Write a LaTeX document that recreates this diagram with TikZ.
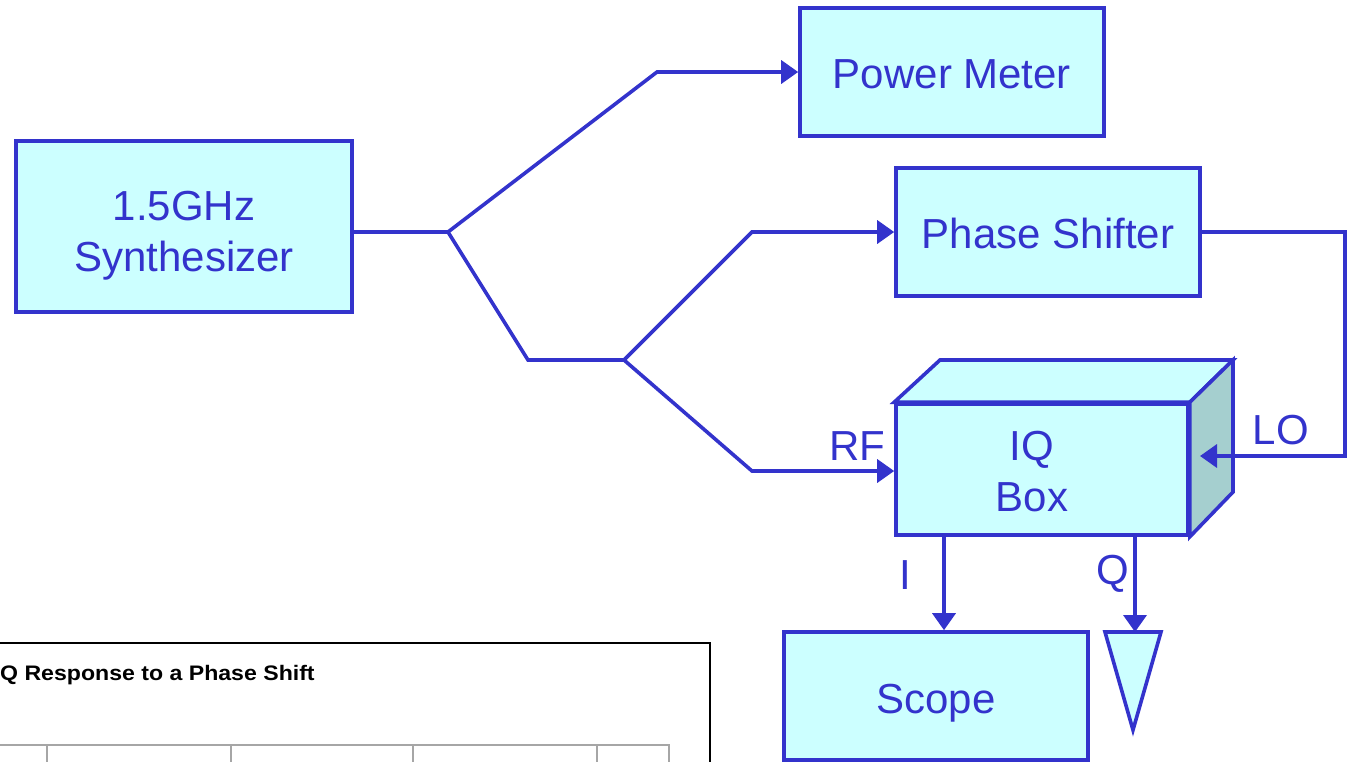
\documentclass[tikz,border=0pt]{standalone}
\usepackage{fontspec}
\setmainfont{Liberation Sans}
\usetikzlibrary{arrows.meta}
\definecolor{ln}{RGB}{51,51,204}
\definecolor{bx}{RGB}{204,255,255}
\definecolor{sidec}{RGB}{165,207,207}
\begin{document}
\begin{tikzpicture}[x=1pt,y=-1pt,
 box/.style={draw=ln, fill=bx, line width=3.6pt, inner sep=0pt},
 conn/.style={draw=ln, line width=3.6pt, line join=miter},
 arr/.style={conn, -{Triangle[length=17pt,width=23pt]}},
 lbl/.style={text=ln, font=\fontsize{42}{51}\selectfont, inner sep=0pt, align=center}]
\useasboundingbox (0,0) rectangle (1350,761);
% chart fragment
\draw[black, line width=1.5pt] (-5,643) -- (710,643) -- (710,775);
\draw[gray!70, line width=2pt] (-5,745) -- (669,745) -- (669,775);
\foreach \gx in {47,231,413,597} \draw[gray!70, line width=1.5pt] (\gx,745) -- (\gx,775);
\node[anchor=base west, font=\bfseries\fontsize{21}{25}\selectfont, inner sep=0pt] (title) at (0,680) {\scalebox{1.1}[1]{Q Response to a Phase Shift}};
% boxes
\node[box, minimum width=336pt, minimum height=171pt] (syn) at (184,226.5) {};
\node[lbl] (syntxt) at ([yshift=-9pt]syn.center) {1.5GHz\\Synthesizer};
\node[box, minimum width=304pt, minimum height=128pt] (pm) at (952,72) {};
\node[lbl] (pmtxt) at ([yshift=-2pt]pm.center) {Power Meter};
\node[box, minimum width=304pt, minimum height=128pt] (ps) at (1048,232) {};
\node[lbl] (pstxt) at ([yshift=-1pt]ps.center) {Phase Shifter};
\coordinate (btl) at (940,360);
\coordinate (btr) at (1233,360);
\coordinate (bbr) at (1233,492);
\node[box, minimum width=292pt, minimum height=131pt] (iq) at (1042,469.5) {};
\filldraw[conn, fill=bx] (iq.north west) -- (btl) -- (btr) -- (iq.north east) -- cycle;
\filldraw[conn, fill=sidec] (iq.north east) -- (btr) -- (bbr) -- (iq.south east) -- cycle;
\node[lbl] (iqtxt) at ([xshift=-10pt,yshift=-2pt]iq.center) {IQ\\Box};
\node[box, minimum width=304pt, minimum height=128pt] (sc) at (936,696) {};
\node[lbl] (sctxt) at ([yshift=-7pt]sc.center) {Scope};
\coordinate (tt) at (1133,632);
\filldraw[conn, fill=bx] (tt) ++(-28,0) -- ++(56,0) -- ++(-28,98) -- cycle;
% connectors
\coordinate (s1) at (448,232);
\coordinate (s2) at (624,360);
\coordinate (rfin) at (752,471);
\coordinate (loend) at (1200,456);
\coordinate (ix) at (944,0);
\coordinate (qx) at (1135,0);
\draw[conn] (syn.east |- s1) -- (s1);
\draw[arr] (s1) -- (657,72) -- (pm.west);
\draw[conn] (s1) -- (528,360) -- (s2);
\draw[arr] (s2) -- (752,232) -- (ps.west);
\draw[arr] (s2) -- (rfin) -- (rfin -| iq.west);
\draw[arr] (ps.east) -- (1345,232) -- (1345,456) -- (loend);
\draw[arr] (ix |- iq.south) -- (ix |- sc.north);
\draw[arr] (qx |- iq.south) -- (qx |- tt);
% labels
\node[lbl] (rf) at (857,446) {RF};
\node[lbl] (lo) at (1281,430) {LO};
\node[lbl] (il) at (905,575) {I};
\node[lbl] (ql) at (1113,574) {Q};
\end{tikzpicture}
\end{document}
